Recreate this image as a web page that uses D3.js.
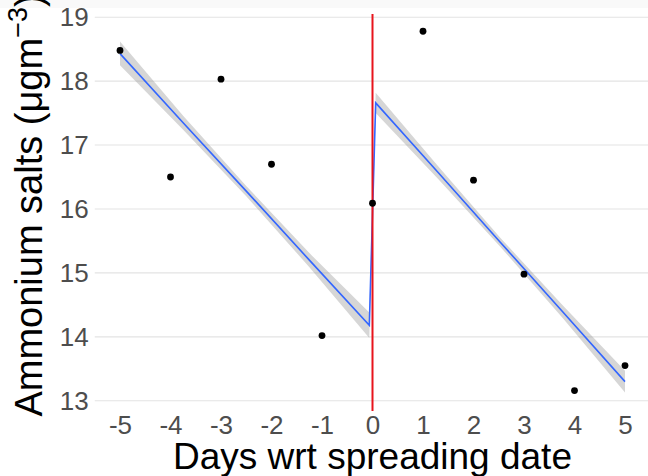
<!DOCTYPE html>
<html>
<head>
<meta charset="utf-8">
<script src="https://cdn.jsdelivr.net/npm/d3@7"></script>
<style>
  body { margin: 0; background: #fff; }
  svg { display: block; font-family: "Liberation Sans", Arial, sans-serif; }
</style>
</head>
<body>
<div id="chart"></div>
<script>
// observed points
const days = [-5, -4, -3, -2, -1, 0, 1, 2, 3, 4, 5];
const ammonium = [18.48, 16.50, 18.03, 16.70, 14.02, 16.09, 18.78, 16.45, 14.98, 13.16, 13.55];

// fitted lines + confidence band
const fitX = [-5, -3.75, -2.5, -1.25, -0.063, 0.063, 1.3, 2.53, 3.77, 5];
const fitY = [18.43, 17.35, 16.28, 15.20, 14.18, 17.66, 16.57, 15.48, 14.39, 13.30];
const fitLo = [18.25, 17.24, 16.20, 15.09, 13.98, 17.50, 16.47, 15.41, 14.29, 13.13];
const fitHi = [18.62, 17.46, 16.36, 15.31, 14.38, 17.82, 16.67, 15.55, 14.49, 13.47];

const xTicks = [-5, -4, -3, -2, -1, 0, 1, 2, 3, 4, 5];
const yTicks = [13, 14, 15, 16, 17, 18, 19];

const width = 648;
const height = 476;

const svg = d3.select('#chart')
  .append('svg')
  .attr('width', width)
  .attr('height', height);

// faint strip at the top of the crop
svg.append('rect')
  .attr('x', 0).attr('y', 0)
  .attr('width', width).attr('height', 8)
  .style('fill', '#f9f9f9');

const xScale = d3.scaleLinear()
  .domain([-5.5, 5.5])
  .range([94.75, 650.25]);

const yScale = d3.scaleLinear()
  .domain([12.84, 19.05])
  .range([411, 14]);

// horizontal grid
svg.selectAll('.grid')
  .data(yTicks)
  .enter()
  .append('line')
  .attr('class', 'grid')
  .attr('x1', xScale(-5.5))
  .attr('x2', xScale(5.5))
  .attr('y1', d => yScale(d))
  .attr('y2', d => yScale(d))
  .style('stroke', '#e3e3e3')
  .style('stroke-width', 1.1);

const fit = fitX.map((x, i) => ({ x, y: fitY[i], lo: fitLo[i], hi: fitHi[i] }));

svg.append('path')
  .datum(fit)
  .attr('d', d3.area()
    .x(d => xScale(d.x))
    .y0(d => yScale(d.lo))
    .y1(d => yScale(d.hi)))
  .style('fill', '#999999')
  .style('opacity', 0.4);

svg.append('path')
  .datum(fit)
  .attr('d', d3.line()
    .x(d => xScale(d.x))
    .y(d => yScale(d.y)))
  .style('fill', 'none')
  .style('stroke', '#3366FF')
  .style('stroke-width', 1.6);

// spreading date
svg.append('line')
  .attr('x1', xScale(0))
  .attr('x2', xScale(0))
  .attr('y1', yScale(19.05))
  .attr('y2', yScale(12.84))
  .style('stroke', '#e8141c')
  .style('stroke-width', 2);

svg.selectAll('.pt')
  .data(days.map((d, i) => ({ x: d, y: ammonium[i] })))
  .enter()
  .append('circle')
  .attr('class', 'pt')
  .attr('cx', d => xScale(d.x))
  .attr('cy', d => yScale(d.y))
  .attr('r', 3.4)
  .style('fill', 'black');

// axes (labels only, no lines)
const xAxis = svg.append('g')
  .attr('transform', `translate(0, ${yScale(12.84) + 1})`)
  .call(d3.axisBottom(xScale).tickValues(xTicks).tickSize(0).tickPadding(4)
    .tickFormat(d => String(d)));
xAxis.select('.domain').remove();
xAxis.selectAll('text')
  .style('font-family', '"Liberation Sans", Arial, sans-serif')
  .style('font-size', '26px')
  .style('fill', '#4d4d4d');

const yAxis = svg.append('g')
  .attr('transform', `translate(${xScale(-5.5) - 4}, 0)`)
  .call(d3.axisLeft(yScale).tickValues(yTicks).tickSize(0).tickPadding(2)
    .tickFormat(d => String(d)));
yAxis.select('.domain').remove();
yAxis.selectAll('text')
  .style('font-family', '"Liberation Sans", Arial, sans-serif')
  .style('font-size', '26px')
  .style('fill', '#4d4d4d');

svg.append('text')
  .attr('text-anchor', 'middle')
  .attr('x', (xScale(-5.5) + xScale(5.5)) / 2)
  .attr('y', 469)
  .text('Days wrt spreading date')
  .style('font-size', '37px')
  .style('fill', 'black');

const yTitle = svg.append('text')
  .attr('text-anchor', 'middle')
  .attr('transform', `translate(42, ${(yScale(19.05) + yScale(12.84)) / 2 - 7}) rotate(-90)`)
  .style('font-size', '38px')
  .style('fill', 'black');
yTitle.append('tspan').text('Ammonium salts (μgm');
yTitle.append('tspan').attr('dy', -15).style('font-size', '27px').text('−3');
yTitle.append('tspan').attr('dy', 15).text(')');
</script>
</body>
</html>
